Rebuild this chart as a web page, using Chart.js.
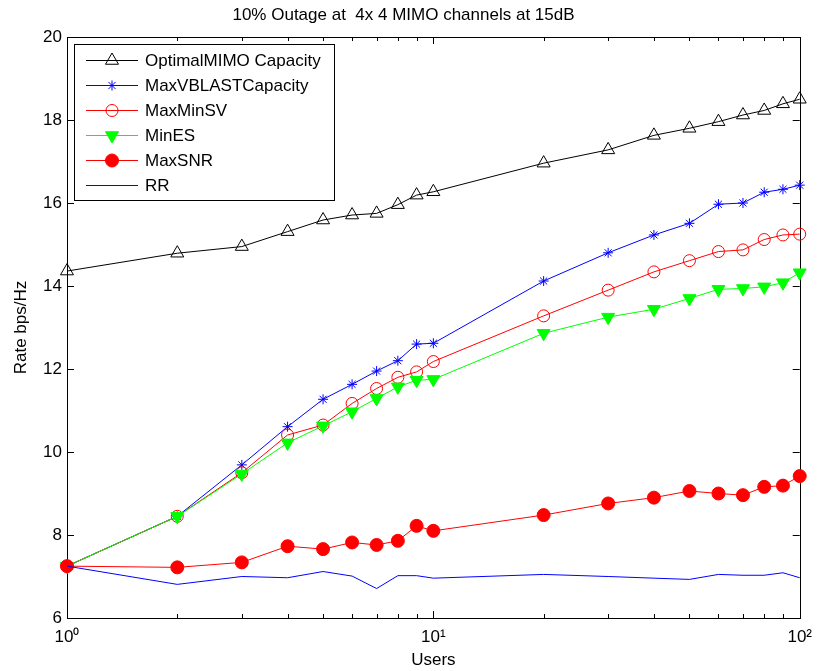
<!DOCTYPE html>
<html>
<head>
<meta charset="utf-8">
<script src="https://cdn.jsdelivr.net/npm/chart.js@4"></script>
<style>
  html, body { margin: 0; padding: 0; background: #fff; }
</style>
</head>
<body>
<canvas id="chart" width="821" height="671"></canvas>
<script>
const users = [1, 2, 3, 4, 5, 6, 7, 8, 9, 10, 20, 30, 40, 50, 60, 70, 80, 90, 100];

const optimalMimo = [14.36, 14.79, 14.95, 15.31, 15.59, 15.71, 15.75, 15.96, 16.19, 16.27, 16.96, 17.28, 17.63, 17.8, 17.96, 18.12, 18.23, 18.39, 18.5];
const maxVblast = [7.25, 8.45, 9.69, 10.61, 11.27, 11.63, 11.95, 12.2, 12.6, 12.62, 14.12, 14.8, 15.23, 15.51, 15.97, 16.0, 16.26, 16.33, 16.43];
const maxMinSv = [7.25, 8.45, 9.5, 10.41, 10.65, 11.17, 11.53, 11.8, 11.93, 12.18, 13.28, 13.9, 14.34, 14.61, 14.83, 14.87, 15.12, 15.23, 15.25];
const minEs = [7.25, 8.45, 9.47, 10.22, 10.63, 10.97, 11.29, 11.57, 11.73, 11.75, 12.86, 13.25, 13.44, 13.7, 13.92, 13.94, 13.98, 14.08, 14.32];
const maxSnr = [7.25, 7.22, 7.34, 7.73, 7.66, 7.82, 7.76, 7.86, 8.22, 8.1, 8.48, 8.76, 8.9, 9.06, 9.0, 8.96, 9.16, 9.19, 9.42];
const rr = [7.25, 6.81, 7.0, 6.97, 7.12, 7.01, 6.71, 7.02, 7.02, 6.96, 7.05, 7.0, 6.96, 6.93, 7.05, 7.03, 7.03, 7.09, 6.97];

const xTicks = [1, 2, 3, 4, 5, 6, 7, 8, 9, 10, 20, 30, 40, 50, 60, 70, 80, 90, 100];
const xTickLabels = {1: '10\u2070', 10: '10\u00B9', 100: '10\u00B2'};
const yTicks = [6, 8, 10, 12, 14, 16, 18, 20];

const FONT = 'Arial, "Liberation Sans", sans-serif';
const FS = 17;

function pts(vals) {
  return users.map((u, i) => ({x: u, y: vals[i]}));
}

function series(label, vals, color, style, radius, fill, extra) {
  return Object.assign({
    label: label,
    data: pts(vals),
    borderColor: color,
    borderWidth: 1,
    pointStyle: style,
    pointRadius: radius,
    pointHoverRadius: radius,
    pointBorderColor: color,
    pointBackgroundColor: fill,
    pointBorderWidth: 1,
    pointRotation: 0,
    tension: 0,
    clip: false
  }, extra || {});
}

const datasets = [
  series('OptimalMIMO Capacity', optimalMimo, '#000000', 'triangle', 7.5, 'rgba(0,0,0,0)', {order: 6}),
  series('MaxVBLASTCapacity', maxVblast, '#0000ff', 'star', 5, 'rgba(0,0,0,0)', {order: 5}),
  series('MaxMinSV', maxMinSv, '#ff0000', 'circle', 6, 'rgba(0,0,0,0)', {order: 4}),
  series('MinES', minEs, '#00ff00', 'triangle', 7.5, '#00ff00', {order: 3, pointRotation: 180}),
  series('MaxSNR', maxSnr, '#ff0000', 'circle', 6.5, '#ff0000', {order: 2}),
  series('RR', rr, '#0000ff', false, 0, 'rgba(0,0,0,0)', {order: 1})
];

// axes box, inward ticks and the legend inside the plot, MATLAB style
const frame = {
  id: 'frame',
  beforeDatasetsDraw(chart) {
    const {ctx, chartArea: a, scales: {x, y}} = chart;
    ctx.save();
    ctx.strokeStyle = '#000';
    ctx.lineWidth = 1;
    ctx.strokeRect(Math.round(a.left) + 0.5, Math.round(a.top) + 0.5,
      Math.round(a.right - a.left), Math.round(a.bottom - a.top));
    ctx.beginPath();
    xTicks.forEach(v => {
      const px = Math.round(x.getPixelForValue(v)) + 0.5;
      const len = xTickLabels[v] ? 7 : 4;
      ctx.moveTo(px, a.bottom); ctx.lineTo(px, a.bottom - len);
      ctx.moveTo(px, a.top); ctx.lineTo(px, a.top + len);
    });
    yTicks.forEach(v => {
      const py = Math.round(y.getPixelForValue(v)) + 0.5;
      ctx.moveTo(a.left, py); ctx.lineTo(a.left + 7, py);
      ctx.moveTo(a.right, py); ctx.lineTo(a.right - 7, py);
    });
    ctx.stroke();
    ctx.restore();
  },
  afterDraw(chart) {
    const {ctx, chartArea: a} = chart;
    const bx = a.left + 7, by = a.top + 7, bw = 260, bh = 156;
    ctx.save();
    ctx.fillStyle = '#fff';
    ctx.fillRect(bx, by, bw, bh);
    ctx.strokeStyle = '#000';
    ctx.lineWidth = 1;
    ctx.strokeRect(Math.round(bx) + 0.5, Math.round(by) + 0.5, bw, bh);
    ctx.font = FS + 'px ' + FONT;
    ctx.textBaseline = 'middle';
    ctx.textAlign = 'left';
    chart.data.datasets.forEach((ds, i) => {
      const ly = Math.round(by + 16 + i * 25) + 0.5;
      ctx.strokeStyle = ds.borderColor;
      ctx.lineWidth = 1;
      ctx.beginPath();
      ctx.moveTo(bx + 12, ly);
      ctx.lineTo(bx + 64, ly);
      ctx.stroke();
      if (ds.pointStyle) {
        ctx.fillStyle = ds.pointBackgroundColor;
        ctx.strokeStyle = ds.pointBorderColor;
        Chart.helpers.drawPoint(ctx, {
          pointStyle: ds.pointStyle,
          radius: ds.pointRadius,
          rotation: ds.pointRotation,
          borderWidth: 1
        }, bx + 38, ly);
      }
      ctx.fillStyle = '#000';
      ctx.fillText(ds.label, bx + 71, ly + 1);
    });
    ctx.restore();
  }
};

const chart = new Chart(document.getElementById('chart'), {
  type: 'line',
  data: { datasets: datasets },
  options: {
    responsive: false,
    devicePixelRatio: 1,
    animation: false,
    layout: { padding: { top: 0, right: 14, bottom: 0, left: 0 } },
    plugins: {
      legend: { display: false },
      tooltip: { enabled: false },
      title: {
        display: true,
        text: '10% Outage at  4x 4 MIMO channels at 15dB',
        color: '#000',
        font: { family: FONT, size: FS, weight: 'normal' },
        padding: { top: 5, bottom: 11.6 }
      }
    },
    scales: {
      x: {
        type: 'logarithmic',
        min: 1,
        max: 100,
        grid: { display: false, drawTicks: false },
        border: { display: false },
        afterBuildTicks: s => { s.ticks = xTicks.map(v => ({value: v})); },
        afterFit: s => { s.height = 53; },
        ticks: {
          autoSkip: false,
          maxRotation: 0,
          padding: 9,
          color: '#000',
          font: { family: FONT, size: FS },
          callback: v => xTickLabels[v] || ''
        },
        title: {
          display: true,
          text: 'Users',
          color: '#000',
          font: { family: FONT, size: FS },
          padding: { top: 0, bottom: 0 }
        }
      },
      y: {
        min: 6,
        max: 20,
        grid: { display: false, drawTicks: false },
        border: { display: false },
        afterBuildTicks: s => { s.ticks = yTicks.map(v => ({value: v})); },
        afterFit: s => { s.width = 67; },
        ticks: {
          padding: 5,
          color: '#000',
          font: { family: FONT, size: FS }
        },
        title: {
          display: true,
          text: 'Rate bps/Hz',
          color: '#000',
          font: { family: FONT, size: FS },
          padding: { top: 11, bottom: 0 }
        }
      }
    }
  },
  plugins: [frame]
});
</script>
</body>
</html>
